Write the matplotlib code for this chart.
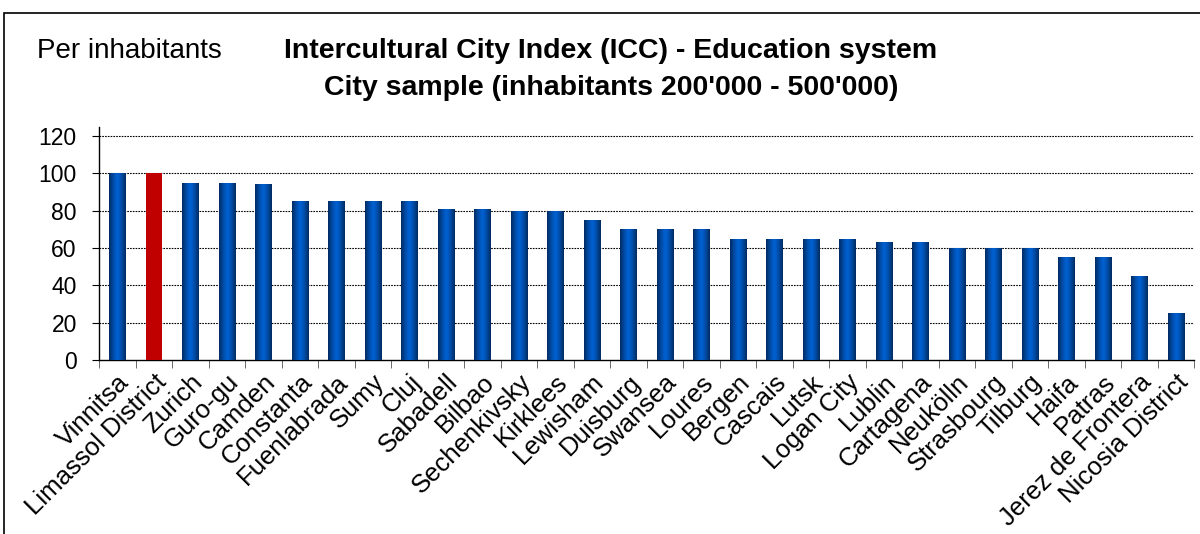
import matplotlib
matplotlib.use("Agg")
import matplotlib.pyplot as plt
import numpy as np
from matplotlib.patches import Rectangle

cities = ["Vinnitsa", "Limassol District", "Zurich", "Guro-gu", "Camden",
          "Constanta", "Fuenlabrada", "Sumy", "Cluj", "Sabadell", "Bilbao",
          "Sechenkivsky", "Kirklees", "Lewisham", "Duisburg", "Swansea",
          "Loures", "Bergen", "Cascais", "Lutsk", "Logan City", "Lublin",
          "Cartagena", "Neukölln", "Strasbourg", "Tilburg", "Haifa", "Patras",
          "Jerez de Frontera", "Nicosia District"]
scores = [100, 100, 95, 95, 94, 85, 85, 85, 85, 81, 81, 80, 80, 75, 70, 70,
          70, 65, 65, 65, 65, 63, 63, 60, 60, 60, 55, 55, 45, 25]
highlight = "Limassol District"
yticks = [0, 20, 40, 60, 80, 100, 120]

plt.rcParams["font.family"] = ["Liberation Sans", "DejaVu Sans"]

fig = plt.figure(figsize=(12, 5.34), dpi=100)
ax = fig.add_axes([0.0825, 0.3258, 0.9125, 0.4363])

x = np.arange(len(cities))
bars = ax.bar(x, scores, width=0.44, color="#0050b0", zorder=3)

# horizontal shading on the blue bars: dark edges, bright middle
t = np.linspace(0, 1, 64)
shade = 1 - np.abs(2 * t - 1) ** 1.3
grad = plt.matplotlib.colors.LinearSegmentedColormap.from_list(
    "bar", ["#002a60", "#0060d0"])
for name, b in zip(cities, bars):
    if name == highlight:
        b.set_facecolor("#c00000")
        continue
    x0, y0 = b.get_x(), b.get_y()
    im = ax.imshow(shade[np.newaxis, :], cmap=grad, aspect="auto",
                   extent=(x0, x0 + b.get_width(), y0, y0 + b.get_height()),
                   zorder=4, interpolation="bilinear")
    im.set_clip_path(b)

ax.set_xlim(-0.5, len(cities) - 0.5)
ax.set_ylim(0, 124.7)
ax.set_yticks(yticks)
ax.tick_params(axis="y", labelsize=16.5, length=5, direction="out", pad=11)
for v in yticks[1:]:
    ax.axhline(v, color="black", lw=0.8, ls=(0, (1.5, 1)), zorder=1)

ax.set_xticks(x)
ax.set_xticklabels(cities, rotation=45, ha="right", rotation_mode="anchor",
                   fontsize=18.5)
ax.tick_params(axis="x", which="major", length=0, pad=7)
ax.set_xticks(np.arange(len(cities) + 1) - 0.5, minor=True)
ax.tick_params(axis="x", which="minor", length=6, color="#555555")

ax.spines["top"].set_visible(False)
ax.spines["right"].set_visible(False)
ax.spines["left"].set_linewidth(1.0)
ax.spines["bottom"].set_linewidth(1.0)

fig.text(0.031, 0.905, "Per inhabitants", fontsize=20, va="center")
fig.text(0.509, 0.905, "Intercultural City Index (ICC) - Education system",
         fontsize=20.5, fontweight="bold", ha="center", va="center")
fig.text(0.509, 0.835, "City sample (inhabitants 200'000 - 500'000)",
         fontsize=20.5, fontweight="bold", ha="center", va="center")

fig.patches.append(Rectangle((0.0035, -0.01), 1.0, 0.986, transform=fig.transFigure,
                             fill=False, edgecolor="black", lw=1.2))

fig.savefig("out.png", dpi=100)
